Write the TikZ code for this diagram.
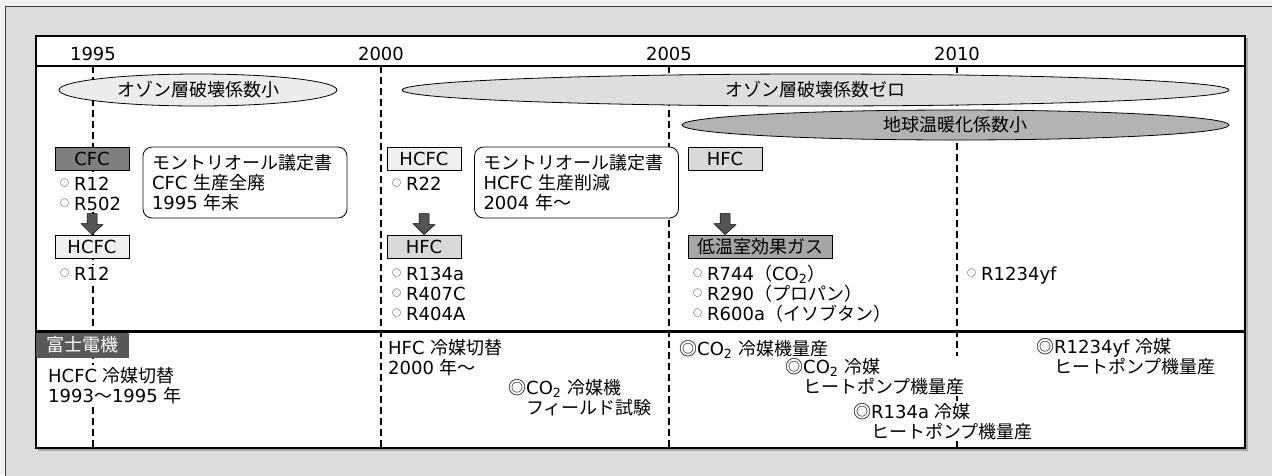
\documentclass[tikz,border=0pt]{standalone}
\usepackage{fontspec}
\setmainfont{DejaVu Sans}
\newfontfamily\jp{Noto Sans CJK JP}
\usetikzlibrary{shapes.geometric}

\definecolor{pagegray}{HTML}{F2F2F2}
\definecolor{framegray}{HTML}{DCDCDC}
\definecolor{ozoneA}{HTML}{ECECEC}
\definecolor{ozoneB}{HTML}{DEDEDE}
\definecolor{ozoneC}{HTML}{B3B3B3}
\definecolor{cfcgray}{HTML}{7F7F7F}
\definecolor{hcfcgray}{HTML}{EFEFEF}
\definecolor{hfcgray}{HTML}{D9D9D9}
\definecolor{lowgray}{HTML}{A6A6A6}
\definecolor{makergray}{HTML}{595959}
\definecolor{arrowgray}{HTML}{555555}

\newcommand{\maru}{\raisebox{3.5pt}{\jp\fontsize{9}{9}\selectfont ○}\hspace{5pt}}
\newcommand{\nijyu}{{\jp ◎}}

\begin{document}
\begin{tikzpicture}[x=1pt,y=-1pt,
  font=\fontsize{18}{20}\selectfont,
  every node/.style={inner sep=0pt},
  yearline/.style={dash pattern=on 7pt off 4pt, line width=1.2pt},
  ozone/.style={ellipse, draw, line width=0.8pt, minimum height=32, font=\jp\fontsize{18}{20}\selectfont},
  gasbox/.style={draw, line width=0.8pt, minimum width=74, minimum height=23, inner xsep=6pt},
  note/.style={draw, rounded corners=9pt, fill=white, line width=0.8pt, inner xsep=9pt, text width=186pt, align=left, minimum height=71},
  txt/.style={anchor=base west, align=left, fill=white, inner ysep=2pt},
  blockarrow/.style={fill=arrowgray, draw=black, line width=0.5pt}]
  \useasboundingbox (0,0) rectangle (1272,475);

  % frame and chart area
  \fill[pagegray] (0,0) rectangle (1272,475);
  \filldraw[fill=framegray, draw=black!75] (5.5,6.5) rectangle (1290,490);
  \fill[black!35] (38,38) rectangle (1247.5,450.5);
  \filldraw[fill=white, draw=black, line width=1.2pt] (36,36) rectangle (1245,448);

  % years
  \foreach \yr/\x in {1995/93,2000/381,2005/669,2010/957} {
    \node[anchor=base] (y\yr) at (\x,60) {\yr};
    \draw[yearline] (\x,66) -- (\x,448);
  }
  \draw[line width=2.5pt] (36,66) -- (1245,66);
  \draw[line width=3pt] (36,331) -- (1245,331);

  % coefficients
  \node[ozone, fill=ozoneA, minimum width=278] (odp1) at (198,90) {オゾン層破壊係数小};
  \node[ozone, fill=ozoneB, minimum width=827] (odp0) at (815.5,90) {オゾン層破壊係数ゼロ};
  \node[ozone, fill=ozoneC, minimum width=547, minimum height=30] (gwp) at (955.5,125) {地球温暖化係数小};

  % refrigerants
  \node[gasbox, fill=cfcgray] (cfc) at (92,158.5) {CFC};
  \node[gasbox, fill=hcfcgray] (hcfcA) at (424,158.5) {HCFC};
  \node[gasbox, fill=hfcgray] (hfcA) at (725,158.5) {HFC};
  \node[gasbox, fill=hcfcgray] (hcfcB) at (92,246.5) {HCFC};
  \node[gasbox, fill=hfcgray] (hfcB) at (424,246.5) {HFC};
  \node[gasbox, fill=lowgray, inner xsep=9pt, anchor=west] (lowgwp) at (688,246.5) {\jp 低温室効果ガス};

  \node[txt] (cfcgas) at (60,210) {\maru R12\\\maru R502};
  \node[txt] (r22) at (392,190) {\maru R22};
  \node[txt] (hcfcgas) at (60,280) {\maru R12};
  \node[txt] (hfcgas) at (392,320) {\maru R134a\\\maru R407C\\\maru R404A};
  \node[txt] (natgas) at (693,320) {\maru R744{\jp （}CO\textsubscript{2}{\jp ）}\\
    \maru R290{\jp （プロパン）}\\\maru R600a{\jp （イソブタン）}};
  \node[txt] (hfo) at (967,280) {\maru R1234yf};

  \foreach \a/\b in {cfc/hcfcB,hcfcA/hfcB,hfcA/lowgwp} {
    \path (\a |- \b.north) coordinate (tip);
    \filldraw[blockarrow] (tip) ++(-5,-21) -- ++(10,0) -- ++(0,11) -- ++(6,0) -- (tip)
      -- ++(-11,-11) -- ++(6,0) -- cycle;
  }

  \node[note] (montreal1) at (245,182.5) {{\jp モントリオール議定書}\\CFC {\jp 生産全廃}\\1995 {\jp 年末}};
  \node[note] (montreal2) at (576.5,182.5) {{\jp モントリオール議定書}\\HCFC {\jp 生産削減}\\2004 {\jp 年〜}};

  % Fuji Electric
  \node[fill=makergray, text=white, minimum width=93, minimum height=25, font=\jp\fontsize{18}{20}\selectfont] (fuji) at (82.5,345) {富士電機};
  \node[txt] (fuji95) at (48,402) {HCFC {\jp 冷媒切替}\\1993{\jp 〜}1995 {\jp 年}};
  \node[txt] (fuji00) at (388,374) {HFC {\jp 冷媒切替}\\2000 {\jp 年〜}};
  \node[txt] (field) at (508,414) {\nijyu CO\textsubscript{2} {\jp 冷媒機}\\{\jp 　フィールド試験}};
  \node[txt] (co2mass) at (679,355) {\nijyu CO\textsubscript{2} {\jp 冷媒機量産}};
  \node[txt] (co2hp) at (785,393) {\nijyu CO\textsubscript{2} {\jp 冷媒}\\{\jp 　ヒートポンプ機量産}};
  \node[txt] (r134hp) at (853,438) {\nijyu R134a {\jp 冷媒}\\{\jp 　ヒートポンプ機量産}};
  \node[txt] (hfohp) at (1036,373) {\nijyu R1234yf {\jp 冷媒}\\{\jp 　ヒートポンプ機量産}};

\end{tikzpicture}
\end{document}
